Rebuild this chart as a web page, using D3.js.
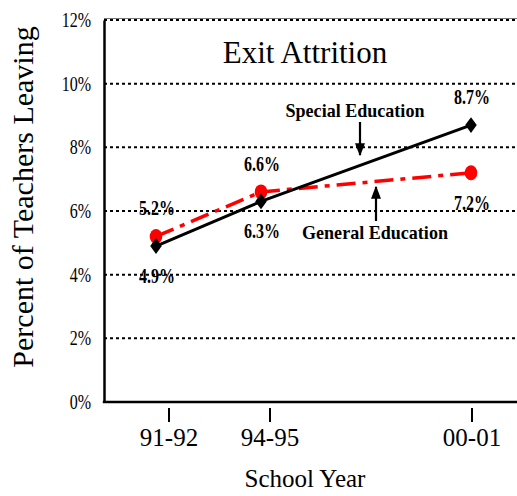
<!DOCTYPE html>
<html>
<head>
<meta charset="utf-8">
<script src="https://cdn.jsdelivr.net/npm/d3@7"></script>
<style>
  body { margin: 0; background: #fff; }
  text { font-family: "Liberation Serif", "Times New Roman", serif; }
</style>
</head>
<body>
<script>
// data
var years = [1991, 1994, 2000];
var yearLabels = ["91-92", "94-95", "00-01"];
var specialEd = [4.9, 6.3, 8.7];
var generalEd = [5.2, 6.6, 7.2];
var yTicks = [0, 2, 4, 6, 8, 10, 12];

var w = 517, h = 496;
var margin = {top: 20, right: 0, bottom: 94, left: 104};

var svg = d3.select("body").append("svg")
  .attr("width", w)
  .attr("height", h);

// scales
var x = d3.scaleLinear().domain([1991, 2000]).range([156, 471]);
var xTick = d3.scaleLinear().domain([1991, 2000]).range([169, 472]);
var y = d3.scaleLinear().domain([0, 12]).range([h - margin.bottom, margin.top]);

// squeeze text horizontally a bit (the original font is narrow)
function squeeze(sel, f) {
  sel.each(function() {
    var len = this.getComputedTextLength();
    d3.select(this).attr("textLength", len * f).attr("lengthAdjust", "spacingAndGlyphs");
  });
}

// top border line
svg.append("line")
  .attr("x1", margin.left).attr("x2", w)
  .attr("y1", y(12) - 1.5).attr("y2", y(12) - 1.5)
  .attr("stroke", "#777").attr("stroke-width", 1);

// gridlines
svg.selectAll("line.grid")
  .data(yTicks.filter(function(d) { return d > 0; }))
  .enter().append("line")
  .attr("class", "grid")
  .attr("x1", margin.left).attr("x2", w)
  .attr("y1", function(d) { return y(d); })
  .attr("y2", function(d) { return y(d); })
  .attr("stroke", "#000")
  .attr("stroke-width", 2)
  .attr("stroke-dasharray", "3,3");

// y axis
var yAxis = d3.axisLeft(y)
  .tickValues(yTicks)
  .tickSize(0)
  .tickPadding(13)
  .tickFormat(function(d) { return d + "%"; });

var gy = svg.append("g")
  .attr("transform", "translate(" + margin.left + ",0)")
  .call(yAxis);
gy.select(".domain").attr("stroke", "#000").attr("stroke-width", 2.5);
gy.selectAll("text")
  .attr("font-family", "Liberation Serif")
  .attr("font-size", 20)
  .attr("fill", "#000")
  .call(squeeze, 0.8);

// x axis line
svg.append("line")
  .attr("x1", margin.left - 1.2).attr("x2", w)
  .attr("y1", y(0)).attr("y2", y(0))
  .attr("stroke", "#000").attr("stroke-width", 2.5);

// x ticks and labels
var gx = svg.append("g");
gx.selectAll("line")
  .data(years)
  .enter().append("line")
  .attr("x1", function(d) { return xTick(d); })
  .attr("x2", function(d) { return xTick(d); })
  .attr("y1", y(0) + 6).attr("y2", y(0) + 20)
  .attr("stroke", "#000").attr("stroke-width", 2);
gx.selectAll("text")
  .data(years)
  .enter().append("text")
  .attr("x", function(d) { return xTick(d); })
  .attr("y", y(0) + 44)
  .attr("text-anchor", "middle")
  .attr("font-size", 25)
  .text(function(d, i) { return yearLabels[i]; });

// axis titles
svg.append("text")
  .attr("x", 305)
  .attr("y", h - 9)
  .attr("text-anchor", "middle")
  .attr("font-size", 25)
  .text("School Year");

svg.append("text")
  .attr("transform", "translate(33," + ((y(0) + y(12)) / 2 - 14) + ") rotate(-90)")
  .attr("text-anchor", "middle")
  .attr("font-size", 30)
  .text("Percent of Teachers Leaving");

// chart title
svg.append("text")
  .attr("x", 305)
  .attr("y", 63)
  .attr("text-anchor", "middle")
  .attr("font-size", 31)
  .text("Exit Attrition");

// lines
var line = d3.line()
  .x(function(d, i) { return x(years[i]); })
  .y(function(d) { return y(d); });

svg.append("path")
  .datum(generalEd)
  .attr("d", line)
  .attr("fill", "none")
  .attr("stroke", "#ff0000")
  .attr("stroke-width", 3.5)
  .attr("stroke-dasharray", "19,7,5,7");

svg.append("path")
  .datum(specialEd)
  .attr("d", line)
  .attr("fill", "none")
  .attr("stroke", "#000")
  .attr("stroke-width", 3);

// markers
svg.selectAll("ellipse.gen")
  .data(generalEd)
  .enter().append("ellipse")
  .attr("class", "gen")
  .attr("cx", function(d, i) { return x(years[i]); })
  .attr("cy", function(d) { return y(d); })
  .attr("rx", 6.3)
  .attr("ry", 7.5)
  .attr("fill", "#ff0000");

var diamond = d3.symbol().type(d3.symbolDiamond).size(80);
svg.selectAll("path.spec")
  .data(specialEd)
  .enter().append("path")
  .attr("class", "spec")
  .attr("d", diamond)
  .attr("transform", function(d, i) { return "translate(" + x(years[i]) + "," + y(d) + ") scale(1.2,0.95)"; })
  .attr("fill", "#000");

// value labels
function addLabels(values, above) {
  svg.selectAll(null)
    .data(values)
    .enter().append("text")
    .attr("x", function(d, i) { return x(years[i]) + 1; })
    .attr("y", function(d, i) { return y(d) + (above[i] ? -21 : 37); })
    .attr("text-anchor", "middle")
    .attr("font-size", 20)
    .attr("font-weight", "bold")
    .text(function(d) { return d.toFixed(1) + "%"; })
    .call(squeeze, 0.8);
}
addLabels(generalEd, [true, true, false]);
addLabels(specialEd, [false, false, true]);

// annotations
svg.append("text")
  .attr("x", 355).attr("y", 117)
  .attr("text-anchor", "middle")
  .attr("font-size", 19)
  .attr("font-weight", "bold")
  .text("Special Education")
  .call(squeeze, 0.95);

svg.append("text")
  .attr("x", 375).attr("y", 239)
  .attr("text-anchor", "middle")
  .attr("font-size", 19)
  .attr("font-weight", "bold")
  .text("General Education")
  .call(squeeze, 0.95);

svg.append("defs").append("marker")
  .attr("id", "arrow")
  .attr("viewBox", "0 0 10 10")
  .attr("preserveAspectRatio", "none")
  .attr("refX", 9).attr("refY", 5)
  .attr("markerUnits", "userSpaceOnUse")
  .attr("markerWidth", 13).attr("markerHeight", 10)
  .attr("orient", "auto")
  .append("path")
  .attr("d", "M0,0L10,5L0,10Z")
  .attr("fill", "#000");

svg.append("line")
  .attr("x1", 360).attr("y1", 122)
  .attr("x2", 360).attr("y2", 155)
  .attr("stroke", "#000").attr("stroke-width", 2.2)
  .attr("marker-end", "url(#arrow)");

svg.append("line")
  .attr("x1", 376).attr("y1", 221)
  .attr("x2", 376).attr("y2", 187)
  .attr("stroke", "#000").attr("stroke-width", 2.2)
  .attr("marker-end", "url(#arrow)");
</script>
</body>
</html>
